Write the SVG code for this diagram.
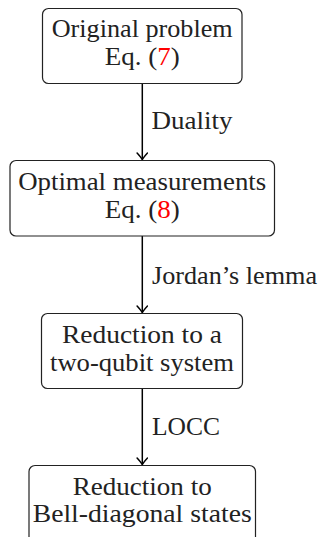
<svg xmlns="http://www.w3.org/2000/svg" width="322" height="537" viewBox="0 0 322 537">
<defs>
<style>
.box{fill:#fff;stroke:#222;stroke-width:1.2}
text{font-family:'Liberation Serif','Times New Roman',serif;font-size:25.5px;fill:#222}
.t{text-anchor:middle}
.ref{fill:#ff0000}
.edge{stroke:#000;stroke-width:1.5;fill:none}
</style>
<marker id="arr" viewBox="-8 -6 10 12" markerWidth="10" markerHeight="12" refX="0" refY="0" orient="auto" markerUnits="userSpaceOnUse">
<path d="M-6.5,-5.2 Q-2,-1.2 0,0 Q-2,1.2 -6.5,5.2" fill="none" stroke="#000" stroke-width="1.5" stroke-linecap="round" stroke-linejoin="round"/>
</marker>
</defs>
<rect width="322" height="537" fill="#fff"/>
<g id="edges">
<line class="edge" x1="142.3" y1="83.5" x2="142.3" y2="159.5" marker-end="url(#arr)"/>
<line class="edge" x1="142.3" y1="236" x2="142.3" y2="312.5" marker-end="url(#arr)"/>
<line class="edge" x1="142.3" y1="388.5" x2="142.3" y2="464.5" marker-end="url(#arr)"/>
<text x="151.5" y="129" textLength="81" lengthAdjust="spacingAndGlyphs">Duality</text>
<text x="152" y="283.5" textLength="165" lengthAdjust="spacingAndGlyphs">Jordan’s lemma</text>
<text x="152" y="435" textLength="68" lengthAdjust="spacingAndGlyphs">LOCC</text>
</g>
<g id="n1">
<rect class="box" x="42.5" y="8.5" width="199.5" height="75" rx="6"/>
<text class="t" x="142.2" y="37.3" textLength="181" lengthAdjust="spacingAndGlyphs">Original problem</text>
<text class="t" x="142.2" y="65.3" textLength="75" lengthAdjust="spacingAndGlyphs">Eq. (<tspan class="ref">7</tspan>)</text>
</g>
<g id="n2">
<rect class="box" x="10" y="160.5" width="264.5" height="75.5" rx="6"/>
<text class="t" x="142.2" y="190" textLength="248" lengthAdjust="spacingAndGlyphs">Optimal measurements</text>
<text class="t" x="142.2" y="218.3" textLength="75" lengthAdjust="spacingAndGlyphs">Eq. (<tspan class="ref">8</tspan>)</text>
</g>
<g id="n3">
<rect class="box" x="41.5" y="313.5" width="201" height="75" rx="6"/>
<text class="t" x="142" y="342.7" textLength="160" lengthAdjust="spacingAndGlyphs">Reduction to a</text>
<text class="t" x="142" y="371" textLength="184" lengthAdjust="spacingAndGlyphs">two-qubit system</text>
</g>
<g id="n4">
<rect class="box" x="29" y="465.5" width="226.5" height="85" rx="6"/>
<text class="t" x="142.2" y="495" textLength="139" lengthAdjust="spacingAndGlyphs">Reduction to</text>
<text class="t" x="142.2" y="521.5" textLength="219" lengthAdjust="spacingAndGlyphs">Bell-diagonal states</text>
</g>
</svg>
